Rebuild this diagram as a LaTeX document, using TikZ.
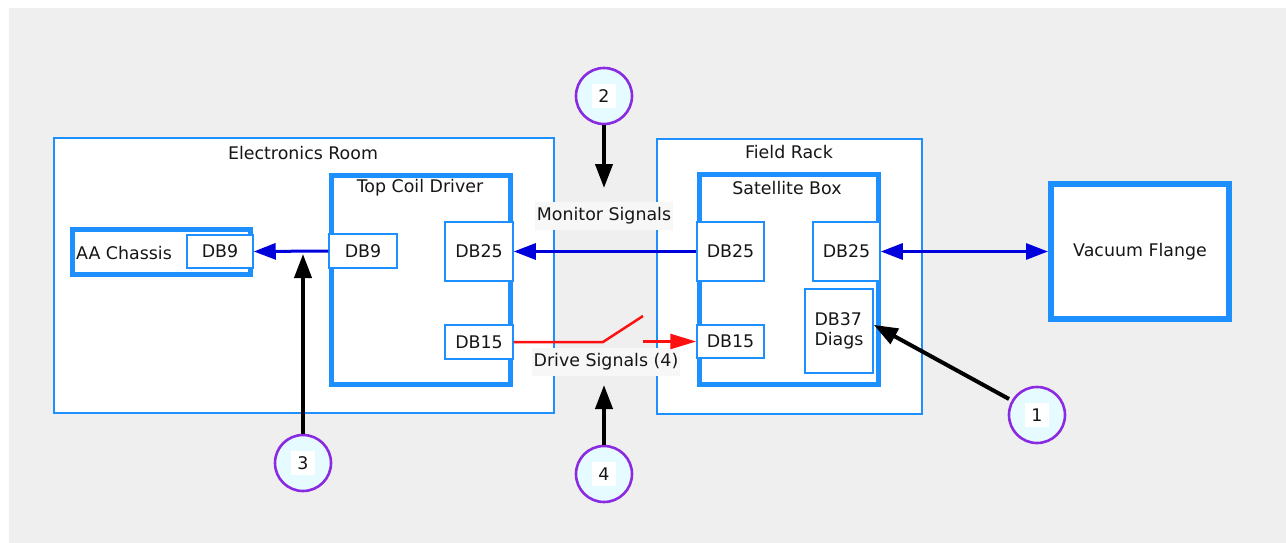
\documentclass[tikz,border=0pt]{standalone}
\usepackage{fontspec}
\setmainfont{DejaVu Sans}
\usetikzlibrary{arrows.meta}
\definecolor{bgray}{HTML}{EFEFEF}
\definecolor{boxblue}{HTML}{1E8FFF}
\definecolor{arrblue}{HTML}{0000DD}
\definecolor{arrred}{HTML}{FF1010}
\definecolor{circpurple}{HTML}{8A2BE2}
\definecolor{circfill}{HTML}{E6FBFF}
\definecolor{labelbg}{HTML}{F7F7F7}
\definecolor{txt}{HTML}{161616}
\tikzset{
  every node/.style={text=txt, font=\fontsize{17.4}{20}\selectfont},
  thinbox/.style={draw=boxblue, line width=2pt, fill=white, inner sep=0pt},
  thickbox/.style={draw=boxblue, line width=5.5pt, fill=white, inner sep=0pt},
  conn/.style={draw=boxblue, line width=1.5pt, fill=white, inner sep=0pt},
  ttl/.style={inner sep=0pt},
  sig/.style={fill=labelbg, inner sep=2pt, minimum height=28pt},
  circ/.style={circle, draw=circpurple, line width=2.6pt, fill=circfill, minimum size=56pt, inner sep=0pt},
  num/.style={fill=white, minimum size=24pt, inner sep=0pt},
  bluearr/.style={draw=arrblue, line width=3pt, -{Triangle[length=22pt,width=16pt]}, arrblue},
  bluedbl/.style={draw=arrblue, line width=3pt, {Triangle[length=22pt,width=16pt]}-{Triangle[length=22pt,width=16pt]}, arrblue},
  blackarr/.style={draw=black, line width=4pt, -{Triangle[length=24pt,width=17pt]}},
  redline/.style={draw=arrred, line width=2.5pt, line join=round},
  redarr/.style={draw=arrred, line width=2.5pt, -{Triangle[length=26pt,width=15pt]}, arrred}
}
\begin{document}
\begin{tikzpicture}[x=1pt,y=-1pt]
\useasboundingbox (0,0) rectangle (1286,543);
\fill[white] (0,0) rectangle (1286,543);
\fill[bgray] (9,8) rectangle (1286,543);

% Electronics room
\node[thinbox, minimum width=500pt, minimum height=275pt] (er) at (304,275.5) {};
\node[ttl] (ert) at (303,153) {Electronics Room};
\node[thickbox, minimum width=179pt, minimum height=209pt] (tcd) at (421,280) {};
\node[ttl] (tcdt) at (420,188) {Top Coil Driver};
\node[thickbox, minimum width=178pt, minimum height=45pt] (aa) at (161.5,252) {};
\node[ttl] (aat) at (124,253) {AA Chassis};
\node[conn, minimum width=66pt, minimum height=33pt] (aadb9) at (220,251.5) {DB9};
\node[conn, minimum width=68pt, minimum height=34pt] (tdb9) at (363,251) {DB9};
\node[conn, minimum width=68pt, minimum height=59pt] (tdb25) at (479,251.5) {DB25};
\node[conn, minimum width=68pt, minimum height=34pt] (tdb15) at (479,342) {DB15};

% Field rack
\node[thinbox, minimum width=265pt, minimum height=275pt] (fr) at (789.5,276.5) {};
\node[ttl] (frt) at (789,152) {Field Rack};
\node[thickbox, minimum width=179pt, minimum height=210pt] (sb) at (789,279.5) {};
\node[ttl] (sbt) at (787,188) {Satellite Box};
\node[conn, minimum width=67pt, minimum height=59pt] (sdb25a) at (730.5,251.5) {DB25};
\node[conn, minimum width=67pt, minimum height=59pt] (sdb25b) at (846.5,251.5) {DB25};
\node[conn, minimum width=68pt, minimum height=84pt, align=left] (db37) at (839,331) {DB37\\Diags};
\node[conn, minimum width=67pt, minimum height=33pt] (sdb15) at (730.5,341.5) {DB15};

% Vacuum flange
\node[thickbox, line width=6pt, minimum width=178pt, minimum height=135pt] (vf) at (1140,251.5) {Vacuum Flange};

% signal labels
\node[sig] (mon) at (604,216) {Monitor Signals};
\node[sig] (drv) at (606,362) {Drive Signals (4)};

% connectors
\draw[bluearr] (tdb9.west) -- (aadb9.east);
\draw[bluearr] (sdb25a.west) -- (tdb25.east);
\draw[bluedbl] (sdb25b.east) -- (vf.west);

\coordinate (sw1) at (603,342);
\coordinate (sw2) at (643,316);
\coordinate (sw3) at (643,341.5);
\draw[redline] (tdb15.east) -- (sw1) -- (sw2);
\draw[redarr] (sw3) -- (sdb15.west);

% callouts
\node[circ] (c1) at (1037,415) {};
\node[num] at (c1) {1};
\node[circ] (c2) at (604,96) {};
\node[num] at (c2) {2};
\node[circ] (c3) at (303,463) {};
\node[num] at (c3) {3};
\node[circ] (c4) at (604,474) {};
\node[num] at (c4) {4};

\coordinate (p2) at (604,188);
\coordinate (p3) at (303,254);
\coordinate (p4) at (604,385);
\draw[blackarr] (c2.south) -- (p2);
\draw[blackarr] (c3.north) -- (p3);
\draw[blackarr] (c4.north) -- (p4);
\draw[blackarr] (c1) ++(-28,-16) -- (db37.10);
\end{tikzpicture}
\end{document}
